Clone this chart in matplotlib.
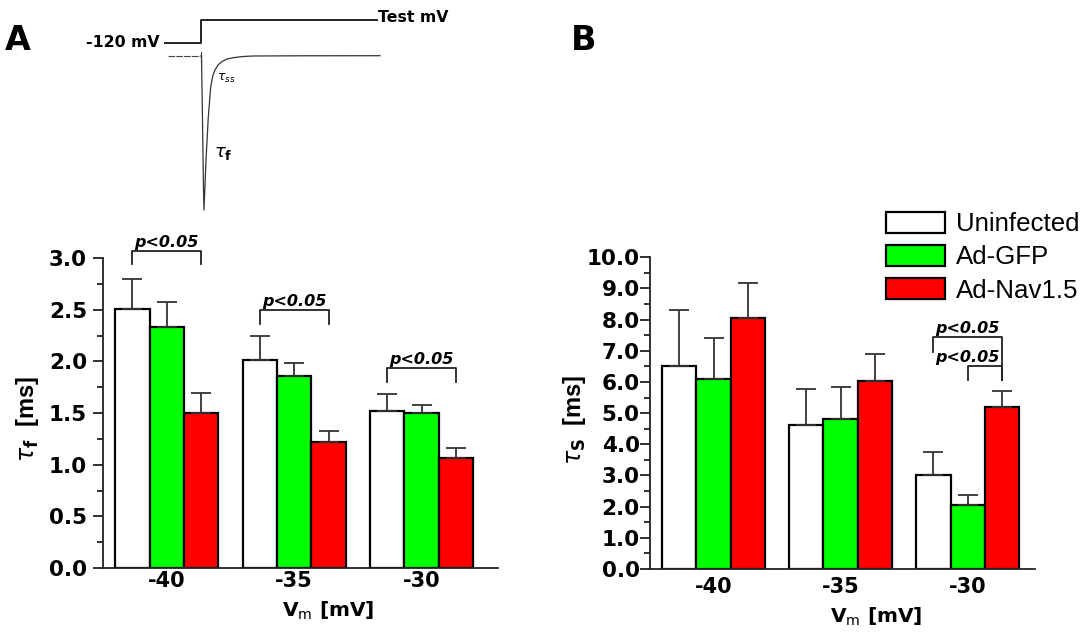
import numpy as np
import matplotlib
matplotlib.use("Agg")
import matplotlib.pyplot as plt
from matplotlib.ticker import MultipleLocator, FormatStrFormatter

W, H = 1087, 637

VOLTAGES = ["-40", "-35", "-30"]
GROUPS = ["Uninfected", "Ad-GFP", "Ad-Nav1.5"]
COLORS = ["white", "#00ff00", "#ff0000"]

# panel A: fast time constant (ms), mean and upper SEM
TAU_F_UNINF = [2.51, 2.01, 1.52]
TAU_F_UNINF_ERR = [0.29, 0.24, 0.16]
TAU_F_GFP = [2.33, 1.86, 1.50]
TAU_F_GFP_ERR = [0.24, 0.12, 0.08]
TAU_F_NAV = [1.50, 1.22, 1.06]
TAU_F_NAV_ERR = [0.19, 0.11, 0.10]

# panel B: slow time constant (ms)
TAU_S_UNINF = [6.51, 4.61, 3.02]
TAU_S_UNINF_ERR = [1.80, 1.16, 0.72]
TAU_S_GFP = [6.11, 4.82, 2.04]
TAU_S_GFP_ERR = [1.31, 1.01, 0.33]
TAU_S_NAV = [8.04, 6.03, 5.20]
TAU_S_NAV_ERR = [1.14, 0.86, 0.50]

# schematic current trace for the inset (figure pixels)
TRACE_X = [201.5, 202.5, 203.5, 204, 205, 206, 208.3, 210.7, 213, 215, 218,
           221.7, 227, 233, 243, 253, 300, 380]
TRACE_Y = [56, 120, 190, 210, 185, 160, 117, 87, 75, 70, 65,
           61.7, 59, 57.7, 56.5, 56, 55.8, 55.7]

BAR_W = 0.27
TEXT_FONT = "DejaVu Sans"
LABEL_FONT = "Liberation Sans"


def px_rect(left, top, right, bottom):
    return [left / W, 1 - bottom / H, (right - left) / W, (bottom - top) / H]


def draw_bars(ax, means, errs):
    x = np.arange(len(VOLTAGES))
    for i, (m, e) in enumerate(zip(means, errs)):
        ax.bar(
            x + (i - 1) * BAR_W, m, BAR_W,
            color=COLORS[i], edgecolor="black", linewidth=1.6,
            label=GROUPS[i],
            yerr=[np.zeros(len(e)), e],
            error_kw=dict(ecolor="#333333", elinewidth=1.3, capsize=7, capthick=1.3),
            zorder=2,
        )


def bracket(ax, x1, x2, top, y1, y2, text_x):
    ax.plot([x1, x1, x2, x2], [y1, top, top, y2], color="#222222", lw=1.3,
            clip_on=False, zorder=3)
    ax.annotate("p<0.05", xy=(text_x, top), xytext=(0, 2.5),
                textcoords="offset points", ha="center", va="baseline",
                fontsize=11.5, fontweight="bold", fontstyle="italic",
                annotation_clip=False)


def style_axis(ax, ymax, major, minor, ypad, xpad):
    ax.set_ylim(0, ymax)
    ax.spines["top"].set_visible(False)
    ax.spines["right"].set_visible(False)
    for s in ("left", "bottom"):
        ax.spines[s].set_linewidth(1.3)
        ax.spines[s].set_color("#222222")
    ax.yaxis.set_major_locator(MultipleLocator(major))
    ax.yaxis.set_minor_locator(MultipleLocator(minor))
    ax.yaxis.set_major_formatter(FormatStrFormatter("%.1f"))
    ax.tick_params(axis="y", which="major", direction="out", length=7, width=1.3,
                   color="#222222", pad=ypad, labelsize=15.5)
    ax.tick_params(axis="y", which="minor", direction="out", length=4, width=1.3,
                   color="#222222")
    ax.set_xticks(np.arange(len(VOLTAGES)))
    ax.set_xticklabels(VOLTAGES)
    ax.tick_params(axis="x", length=0, pad=xpad, labelsize=15)
    for lab in ax.get_xticklabels() + ax.get_yticklabels():
        lab.set_fontweight("bold")


plt.rcParams["font.family"] = TEXT_FONT
fig = plt.figure(figsize=(W / 100, H / 100), dpi=100)

# ---- panel A ----
ax_a = fig.add_axes(px_rect(103, 258, 498, 568))
draw_bars(ax_a, [TAU_F_UNINF, TAU_F_GFP, TAU_F_NAV],
          [TAU_F_UNINF_ERR, TAU_F_GFP_ERR, TAU_F_NAV_ERR])
ax_a.set_xlim(-0.5, 2.6)
style_axis(ax_a, 3.0, 0.5, 0.25, ypad=4.5, xpad=2)
bracket(ax_a, -BAR_W, BAR_W, 3.07, 2.94, 2.94, 0)
bracket(ax_a, 1 - BAR_W, 1 + BAR_W, 2.50, 2.36, 2.36, 1)
bracket(ax_a, 2 - BAR_W, 2 + BAR_W, 1.94, 1.80, 1.80, 2)
ax_a.set_ylabel(r"$\tau_\mathbf{f}$  [ms]", fontsize=17, fontweight="bold",
                family=LABEL_FONT, va="center")
ax_a.yaxis.set_label_coords(-0.192, 0.48)
ax_a.set_xlabel(r"V$_\mathrm{m}$ [mV]", fontsize=14.5, fontweight="bold", va="center")
ax_a.xaxis.set_label_coords(0.57, -0.139)

# ---- panel B ----
ax_b = fig.add_axes(px_rect(650, 257.3, 1035, 569))
draw_bars(ax_b, [TAU_S_UNINF, TAU_S_GFP, TAU_S_NAV],
          [TAU_S_UNINF_ERR, TAU_S_GFP_ERR, TAU_S_NAV_ERR])
ax_b.set_xlim(-0.5, 2.53)
style_axis(ax_b, 10.0, 1.0, 0.5, ypad=0.5, xpad=6)
bracket(ax_b, 2 - BAR_W, 2 + BAR_W, 7.45, 6.97, 6.06, 2)
bracket(ax_b, 2, 2 + BAR_W, 6.52, 6.06, 6.06, 2)
ax_b.set_ylabel(r"$\tau_\mathbf{S}$  [ms]", fontsize=17, fontweight="bold",
                family=LABEL_FONT, va="center")
ax_b.yaxis.set_label_coords(-0.195, 0.48)
ax_b.set_xlabel(r"V$_\mathrm{m}$ [mV]", fontsize=14.5, fontweight="bold", va="center")
ax_b.xaxis.set_label_coords(0.587, -0.154)

ax_b.legend(
    loc="upper left", bbox_to_anchor=(886 / W, 1 - 212 / H),
    bbox_transform=fig.transFigure, frameon=False,
    prop={"family": LABEL_FONT, "size": 18.6},
    handlelength=2.3, handleheight=0.86, handletextpad=0.4,
    labelspacing=0.34, borderpad=0, borderaxespad=0,
)

# ---- inset: voltage protocol and current trace ----
ax_t = fig.add_axes([0, 0, 1, 1])
ax_t.set_xlim(0, W)
ax_t.set_ylim(H, 0)
ax_t.axis("off")
ax_t.patch.set_alpha(0)
ax_t.plot([165, 200.7, 200.7, 377], [42.7, 42.7, 20, 20], color="#222222", lw=1.4)
ax_t.plot([168, 200], [55.7, 55.7], color="#444444", lw=0.8, ls=(0, (6, 1)))
ax_t.plot([201, 201], [51.7, 61.7], color="#444444", lw=0.8)
ax_t.plot([201, 201.5], [55.7, 56], color="#444444", lw=0.8)
ax_t.plot(TRACE_X, TRACE_Y, color="#333333", lw=0.9)
ax_t.text(160, 42.7, "-120 mV", ha="right", va="center", fontsize=11.3, fontweight="bold")
ax_t.text(377.5, 18, "Test mV", ha="left", va="center", fontsize=11.3, fontweight="bold")
ax_t.text(217, 78, r"$\tau_{ss}$", ha="left", va="center", fontsize=9)
ax_t.text(214, 153, r"$\tau_\mathbf{f}$", ha="left", va="center", fontsize=13)

fig.text(5 / W, 1 - 40 / H, "A", ha="left", va="center", fontsize=24, fontweight="bold")
fig.text(571 / W, 1 - 40 / H, "B", ha="left", va="center", fontsize=24, fontweight="bold")

fig.savefig("out.png", dpi=100)
plt.close(fig)
